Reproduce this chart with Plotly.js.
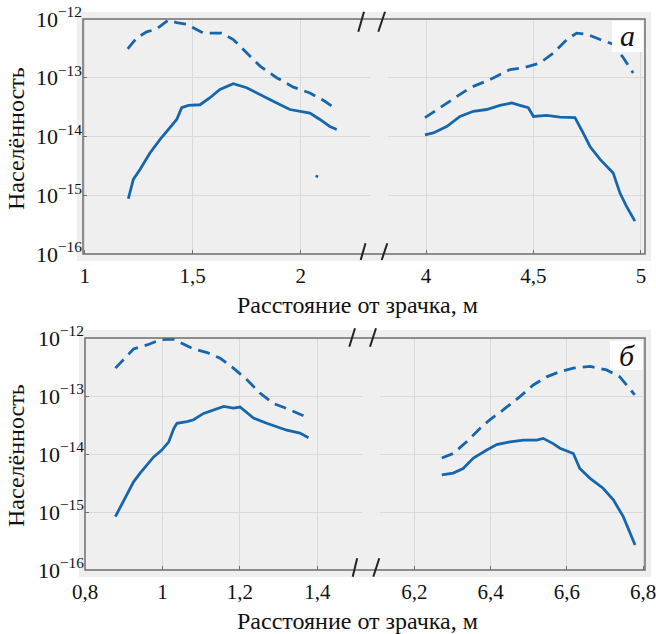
<!DOCTYPE html>
<html>
<head>
<meta charset="utf-8">
<script src="https://cdn.plot.ly/plotly-3.0.1.min.js"></script>
<style>html,body{margin:0;padding:0;background:#fff;}#chart{width:656px;height:634px;}</style>
</head>
<body>
<div id="chart"></div>
<script>
// ---- Data ----
// Panel "а", left part of broken axis
const aLeftDashX = [1.199,1.241,1.287,1.333,1.387,1.426,1.472,1.519,1.549,1.595,1.634,1.688,1.75,1.812,1.889,1.966,2.043,2.112,2.167];
const aLeftDashY = [3.09e-13,4.79e-13,6.03e-13,6.76e-13,9.55e-13,8.71e-13,8.13e-13,6.61e-13,5.75e-13,5.75e-13,5.75e-13,4.47e-13,2.63e-13,1.58e-13,1.0e-13,6.92e-14,5.50e-14,3.98e-14,2.88e-14];
const aLeftSolidX = [1.202,1.225,1.256,1.302,1.349,1.395,1.426,1.449,1.48,1.534,1.58,1.626,1.688,1.75,1.812,1.873,1.95,2.043,2.089,2.135,2.167];
const aLeftSolidY = [8.71e-16,1.86e-15,2.75e-15,5.25e-15,8.91e-15,1.41e-14,1.95e-14,3.09e-14,3.39e-14,3.47e-14,4.57e-14,6.31e-14,7.94e-14,6.76e-14,5.13e-14,3.98e-14,2.88e-14,2.51e-14,1.95e-14,1.48e-14,1.32e-14];
const aSpeckX = [2.073,2.077];
const aSpeckY = [2.0e-15,2.2e-15];
// Panel "а", right part
const aRightDashX = [3.995,4.065,4.127,4.205,4.298,4.391,4.453,4.53,4.592,4.655,4.701,4.748,4.81,4.871,4.918,4.964];
const aRightDashY = [2.09e-14,3.09e-14,4.27e-14,6.76e-14,9.33e-14,1.38e-13,1.48e-13,1.78e-13,2.63e-13,4.47e-13,5.75e-13,5.50e-13,4.47e-13,3.72e-13,2.19e-13,1.20e-13];
const aRightSolidX = [3.995,4.034,4.096,4.158,4.22,4.282,4.344,4.399,4.437,4.476,4.5,4.561,4.623,4.693,4.731,4.763,4.81,4.871,4.902,4.933,4.972];
const aRightSolidY = [1.07e-14,1.15e-14,1.48e-14,2.19e-14,2.69e-14,2.88e-14,3.39e-14,3.72e-14,3.39e-14,3.09e-14,2.19e-14,2.29e-14,2.14e-14,2.09e-14,1.15e-14,6.76e-15,4.07e-15,2.40e-15,1.10e-15,6.46e-16,3.63e-16];
// Panel "б", left part
const bLeftDashX = [0.878,0.899,0.925,0.96,0.994,1.028,1.05,1.08,1.115,1.149,1.183,1.218,1.252,1.287,1.33,1.377];
const bLeftDashY = [3.02e-13,4.27e-13,6.46e-13,7.59e-13,9.33e-13,9.55e-13,8.13e-13,6.46e-13,5.62e-13,4.47e-13,3.02e-13,1.91e-13,1.12e-13,7.41e-14,5.75e-14,4.17e-14];
const bLeftSolidX = [0.878,0.891,0.908,0.925,0.942,0.96,0.977,0.998,1.016,1.029,1.037,1.063,1.08,1.106,1.132,1.158,1.183,1.2,1.235,1.269,1.321,1.355,1.377];
const bLeftSolidY = [8.32e-16,1.23e-15,1.95e-15,3.31e-15,4.68e-15,6.46e-15,8.91e-15,1.17e-14,1.62e-14,2.75e-14,3.39e-14,3.63e-14,3.89e-14,5.01e-14,5.75e-14,6.61e-14,6.17e-14,6.46e-14,4.17e-14,3.39e-14,2.57e-14,2.29e-14,1.91e-14];
// Panel "б", right part
const bRightDashX = [6.272,6.302,6.337,6.372,6.398,6.433,6.477,6.512,6.547,6.582,6.617,6.661,6.704,6.739,6.778];
const bRightDashY = [8.51e-15,1.02e-14,1.62e-14,2.75e-14,3.89e-14,5.75e-14,9.77e-14,1.55e-13,2.14e-13,2.63e-13,3.02e-13,3.24e-13,2.82e-13,2.14e-13,1.05e-13];
const bRightSolidX = [6.272,6.302,6.328,6.355,6.39,6.416,6.451,6.486,6.521,6.538,6.564,6.582,6.617,6.634,6.661,6.695,6.722,6.748,6.779];
const bRightSolidY = [4.37e-15,4.68e-15,5.62e-15,8.51e-15,1.17e-14,1.45e-14,1.62e-14,1.74e-14,1.74e-14,1.86e-14,1.51e-14,1.26e-14,1.02e-14,5.62e-15,3.80e-15,2.57e-15,1.62e-15,8.32e-16,2.69e-16];

// Tick labels
const yTickVals = [1e-16,1e-15,1e-14,1e-13,1e-12];
const yTickText = ['10<sup>−16</sup>','10<sup>−15</sup>','10<sup>−14</sup>','10<sup>−13</sup>','10<sup>−12</sup>'];
const aLeftTickVals = [1,1.5,2];
const aLeftTickText = ['1','1,5','2'];
const aRightTickVals = [4,4.5,5];
const aRightTickText = ['4','4,5','5'];
const bLeftTickVals = [0.8,1,1.2,1.4];
const bLeftTickText = ['0,8','1','1,2','1,4'];
const bRightTickVals = [6.2,6.4,6.6,6.8];
const bRightTickText = ['6,2','6,4','6,6','6,8'];

const xTitle = 'Расстояние от зрачка, м';
const yTitle = 'Населённость';
const panelLabels = ['а','б'];

// ---- Styling / layout ----
const W = 656, H = 634;
const px = v => v / W;
const py = v => 1 - v / H;
const BLUE = '#1666ae';
const FONT = '"Liberation Serif", "Times New Roman", Times, serif';
const GRID = '#d9d9d9';
const BG = '#efefef';
const FRAME = '#6e6e6e';

function solid(x, y, xa, ya) {
  return {x: x, y: y, xaxis: xa, yaxis: ya, type: 'scatter', mode: 'lines',
          line: {color: BLUE, width: 2.8}, hoverinfo: 'skip', showlegend: false};
}
function dashed(x, y, xa, ya) {
  return {x: x, y: y, xaxis: xa, yaxis: ya, type: 'scatter', mode: 'lines',
          line: {color: BLUE, width: 2.8, dash: '12px,7px'}, hoverinfo: 'skip', showlegend: false};
}

const traces = [
  dashed(aLeftDashX, aLeftDashY, 'x', 'y'),
  solid(aLeftSolidX, aLeftSolidY, 'x', 'y'),
  solid(aSpeckX, aSpeckY, 'x', 'y'),
  dashed(aRightDashX, aRightDashY, 'x2', 'y'),
  solid(aRightSolidX, aRightSolidY, 'x2', 'y'),
  dashed(bLeftDashX, bLeftDashY, 'x3', 'y2'),
  solid(bLeftSolidX, bLeftSolidY, 'x3', 'y2'),
  dashed(bRightDashX, bRightDashY, 'x4', 'y2'),
  solid(bRightSolidX, bRightSolidY, 'x4', 'y2')
];

function xax(domain, range, vals, text, anchor) {
  return {domain: domain, range: range, anchor: anchor, tickmode: 'array', tickvals: vals, ticktext: text,
          showgrid: true, gridcolor: GRID, gridwidth: 1, zeroline: false, showline: false,
          ticks: 'inside', ticklen: 4, tickcolor: FRAME, tickwidth: 1, ticklabelstandoff: 7,
          ticklabeloverflow: 'allow',
          tickfont: {family: FONT, size: 21, color: '#111'}, fixedrange: true};
}
function yax(domain, anchor) {
  return {domain: domain, type: 'log', range: [-16, -12], anchor: anchor, tickmode: 'array',
          tickvals: yTickVals, ticktext: yTickText, showgrid: true, gridcolor: GRID, gridwidth: 1,
          zeroline: false, showline: false, ticks: 'inside', ticklen: 4, tickcolor: FRAME,
          ticklabeloverflow: 'allow',
          tickfont: {family: FONT, size: 22, color: '#111'}, fixedrange: true};
}

const topY = [py(254), py(19)];
const botY = [py(570), py(338)];

const shapes = [
  // grey backgrounds
  {type: 'rect', xref: 'paper', yref: 'paper', x0: px(77), x1: px(651), y0: py(261), y1: py(12), fillcolor: BG, line: {width: 0}, layer: 'below'},
  {type: 'rect', xref: 'paper', yref: 'paper', x0: px(79), x1: px(651), y0: py(577), y1: py(330), fillcolor: BG, line: {width: 0}, layer: 'below'},
  // frames
  {type: 'rect', xref: 'paper', yref: 'paper', x0: px(83), x1: px(645), y0: py(254), y1: py(19), line: {color: FRAME, width: 1.5}, fillcolor: 'rgba(0,0,0,0)', layer: 'above'},
  {type: 'rect', xref: 'paper', yref: 'paper', x0: px(85), x1: px(645), y0: py(570), y1: py(338), line: {color: FRAME, width: 1.5}, fillcolor: 'rgba(0,0,0,0)', layer: 'above'},
  // panel label boxes
  {type: 'rect', xref: 'paper', yref: 'paper', x0: px(612), x1: px(643), y0: py(52), y1: py(21), fillcolor: '#ffffff', line: {width: 0}, layer: 'above'},
  {type: 'rect', xref: 'paper', yref: 'paper', x0: px(610), x1: px(643), y0: py(370), y1: py(341), fillcolor: '#ffffff', line: {width: 0}, layer: 'above'}
];
// axis-break slashes
const slashes = [
  [358.3,31.7,364,11.7],[378.3,31.7,385,11.7],
  [360.7,260,365.5,243.3],[381.7,260,387.3,243.3],
  [349.3,346.7,355,328.3],[370,346.7,376,328.3],
  [352.7,576.7,357.2,558.3],[373.3,576.7,379.3,558.3]
];
slashes.forEach(s => shapes.push({type: 'line', xref: 'paper', yref: 'paper',
  x0: px(s[0]), y0: py(s[1]), x1: px(s[2]), y1: py(s[3]), line: {color: '#222', width: 2}, layer: 'above'}));

const annotations = [
  {xref: 'paper', yref: 'paper', x: px(357.5), y: py(305), text: xTitle, showarrow: false, xanchor: 'center', yanchor: 'middle', font: {family: FONT, size: 24, color: '#111'}},
  {xref: 'paper', yref: 'paper', x: px(357.5), y: py(621), text: xTitle, showarrow: false, xanchor: 'center', yanchor: 'middle', font: {family: FONT, size: 24, color: '#111'}},
  {xref: 'paper', yref: 'paper', x: px(16), y: py(139), text: yTitle, textangle: -90, showarrow: false, xanchor: 'center', yanchor: 'middle', font: {family: FONT, size: 24, color: '#111'}},
  {xref: 'paper', yref: 'paper', x: px(16), y: py(456), text: yTitle, textangle: -90, showarrow: false, xanchor: 'center', yanchor: 'middle', font: {family: FONT, size: 24, color: '#111'}},
  {xref: 'paper', yref: 'paper', x: px(627.5), y: py(36), text: '<i>' + panelLabels[0] + '</i>', showarrow: false, xanchor: 'center', yanchor: 'middle', font: {family: FONT, size: 30, color: '#111'}},
  {xref: 'paper', yref: 'paper', x: px(626.5), y: py(355), text: '<i>' + panelLabels[1] + '</i>', showarrow: false, xanchor: 'center', yanchor: 'middle', font: {family: FONT, size: 30, color: '#111'}}
];

const layout = {
  width: W, height: H,
  margin: {l: 0, r: 0, t: 0, b: 0, pad: 0},
  paper_bgcolor: '#ffffff',
  plot_bgcolor: 'rgba(0,0,0,0)',
  showlegend: false,
  font: {family: FONT, color: '#111'},
  xaxis: xax([px(83), px(370)], [0.992, 2.321], aLeftTickVals, aLeftTickText, 'y'),
  xaxis2: xax([px(388), px(645)], [3.823, 5.019], aRightTickVals, aRightTickText, 'y'),
  xaxis3: xax([px(85), px(362)], [0.7995, 1.5153], bLeftTickVals, bLeftTickText, 'y2'),
  xaxis4: xax([px(380), px(645)], [6.110, 6.805], bRightTickVals, bRightTickText, 'y2'),
  yaxis: yax(topY, 'x'),
  yaxis2: yax(botY, 'x3'),
  shapes: shapes,
  annotations: annotations
};

Plotly.newPlot('chart', traces, layout, {staticPlot: true, displayModeBar: false});
</script>
</body>
</html>
